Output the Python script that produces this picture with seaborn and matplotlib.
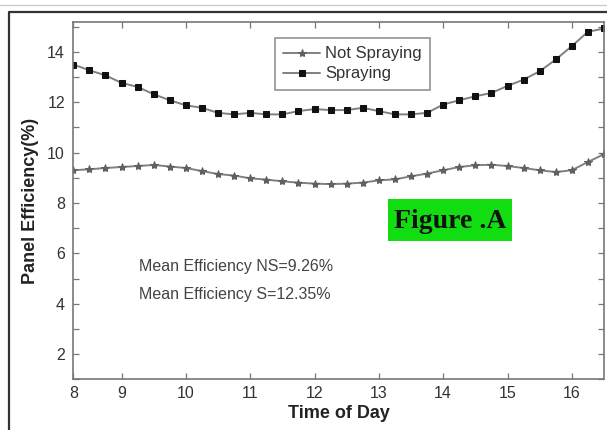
import matplotlib
matplotlib.use("Agg")
import matplotlib.pyplot as plt
import seaborn as sns
import numpy as np
import pandas as pd
from matplotlib.patches import Rectangle
from matplotlib.lines import Line2D

# ---- data ----
time_of_day = [8.25, 8.5, 8.75, 9.0, 9.25, 9.5, 9.75, 10.0, 10.25, 10.5, 10.75,
               11.0, 11.25, 11.5, 11.75, 12.0, 12.25, 12.5, 12.75, 13.0, 13.25,
               13.5, 13.75, 14.0, 14.25, 14.5, 14.75, 15.0, 15.25, 15.5, 15.75,
               16.0, 16.25, 16.5]
not_spraying = [9.30, 9.34, 9.39, 9.43, 9.47, 9.51, 9.45, 9.39, 9.27, 9.15, 9.09,
                8.98, 8.93, 8.86, 8.81, 8.77, 8.75, 8.77, 8.81, 8.90, 8.94,
                9.06, 9.17, 9.30, 9.43, 9.50, 9.52, 9.47, 9.39, 9.30, 9.23,
                9.30, 9.63, 9.94]
spraying = [13.50, 13.27, 13.07, 12.77, 12.61, 12.32, 12.08, 11.88, 11.78, 11.58, 11.52,
            11.58, 11.52, 11.52, 11.65, 11.73, 11.69, 11.69, 11.78, 11.65, 11.52,
            11.52, 11.58, 11.91, 12.08, 12.24, 12.37, 12.65, 12.90, 13.23, 13.70,
            14.23, 14.80, 14.93]
x_tick_pos = [8.25, 9, 10, 11, 12, 13, 14, 15, 16]
x_tick_labels = ["8", "9", "10", "11", "12", "13", "14", "15", "16"]
y_tick_major = [2, 4, 6, 8, 10, 12, 14]
y_tick_minor = [1, 3, 5, 7, 9, 11, 13, 15]
series_names = ["Not Spraying", "Spraying"]
notes = ["Mean Efficiency NS=9.26%", "Mean Efficiency S=12.35%"]
fig_tag = "Figure .A"

df = pd.DataFrame({"t": time_of_day, "ns": not_spraying, "s": spraying})

sns.set_theme(style="white")
plt.rcParams["font.family"] = ["Liberation Sans", "DejaVu Sans"]

fig = plt.figure(figsize=(6.07, 4.30), dpi=100)
W, H = 607, 430
ax_l, ax_r, ax_t, ax_b = 73.3, 604, 21.7, 379.3
ax = fig.add_axes([ax_l / W, 1 - ax_b / H, (ax_r - ax_l) / W, (ax_b - ax_t) / H])

line_col = "#808080"
sns.lineplot(data=df, x="t", y="ns", ax=ax, color=line_col, linewidth=1.4,
             marker="*", markersize=6, markerfacecolor="#606060",
             markeredgecolor="#606060", label=series_names[0])
sns.lineplot(data=df, x="t", y="s", ax=ax, color=line_col, linewidth=1.4,
             marker="s", markersize=4.5, markerfacecolor="#111111",
             markeredgecolor="#111111", label=series_names[1])

ax.set_xlim(8.25, 16.5)
ax.set_ylim(1, 15.2)
ax.set_xticks(x_tick_pos)
ax.set_xticklabels(x_tick_labels)
ax.set_yticks(y_tick_major)
ax.set_yticklabels([str(v) for v in y_tick_major])
ax.set_yticks(y_tick_minor, minor=True)

for sp in ax.spines.values():
    sp.set_color("#777777")
    sp.set_linewidth(1.2)

ax.tick_params(axis="both", which="both", direction="in", top=True, right=True,
               bottom=True, left=True, color="#777777", width=0.9, length=4,
               labelsize=11.5, labelcolor="#333333")
ax.tick_params(axis="x", pad=5)
ax.tick_params(axis="y", pad=6)

ax.set_xlabel("Time of Day", fontsize=13, fontweight="bold", color="#222222", labelpad=3)
ax.set_ylabel("Panel Efficiency(%)", fontsize=13, fontweight="bold", color="#222222", labelpad=6)

leg = ax.legend(loc="upper left", bbox_to_anchor=((275 - ax_l) / (ax_r - ax_l), 1 - (38 - ax_t) / (ax_b - ax_t)),
                borderaxespad=0, fontsize=12, frameon=True, fancybox=False,
                handlelength=2.2, handletextpad=0.3, labelspacing=0.3,
                borderpad=0.5)
leg.get_frame().set_edgecolor("#777777")
leg.get_frame().set_linewidth(1.2)
for t in leg.get_texts():
    t.set_color("#333333")

# notes
ax.text((139 - ax_l) / (ax_r - ax_l), 1 - (267 - ax_t) / (ax_b - ax_t), notes[0],
        transform=ax.transAxes, fontsize=11.5, color="#444444", va="center", ha="left")
ax.text((139 - ax_l) / (ax_r - ax_l), 1 - (295 - ax_t) / (ax_b - ax_t), notes[1],
        transform=ax.transAxes, fontsize=11.5, color="#444444", va="center", ha="left")

# green tag box
bx0 = (388 - ax_l) / (ax_r - ax_l)
bx1 = (512 - ax_l) / (ax_r - ax_l)
by1 = 1 - (199 - ax_t) / (ax_b - ax_t)
by0 = 1 - (241 - ax_t) / (ax_b - ax_t)
ax.add_patch(Rectangle((bx0, by0), bx1 - bx0, by1 - by0, transform=ax.transAxes,
                       facecolor="#11dd11", edgecolor="none", zorder=1))
ax.text((bx0 + bx1) / 2, 1 - (221 - ax_t) / (ax_b - ax_t), fig_tag, transform=ax.transAxes,
        fontsize=20, fontweight="bold", family=["Liberation Serif", "DejaVu Serif"],
        color="#111111", ha="center", va="center", zorder=2)

# outer frame
fig.add_artist(Line2D([0, 1], [1 - 5 / H, 1 - 5 / H], transform=fig.transFigure,
                      color="#cccccc", linewidth=1.0))
fig.add_artist(Line2D([8.5 / W, 8.5 / W, 1], [0, 1 - 12 / H, 1 - 12 / H], transform=fig.transFigure,
                      color="#333333", linewidth=1.6))

fig.savefig("out.png", dpi=100)
